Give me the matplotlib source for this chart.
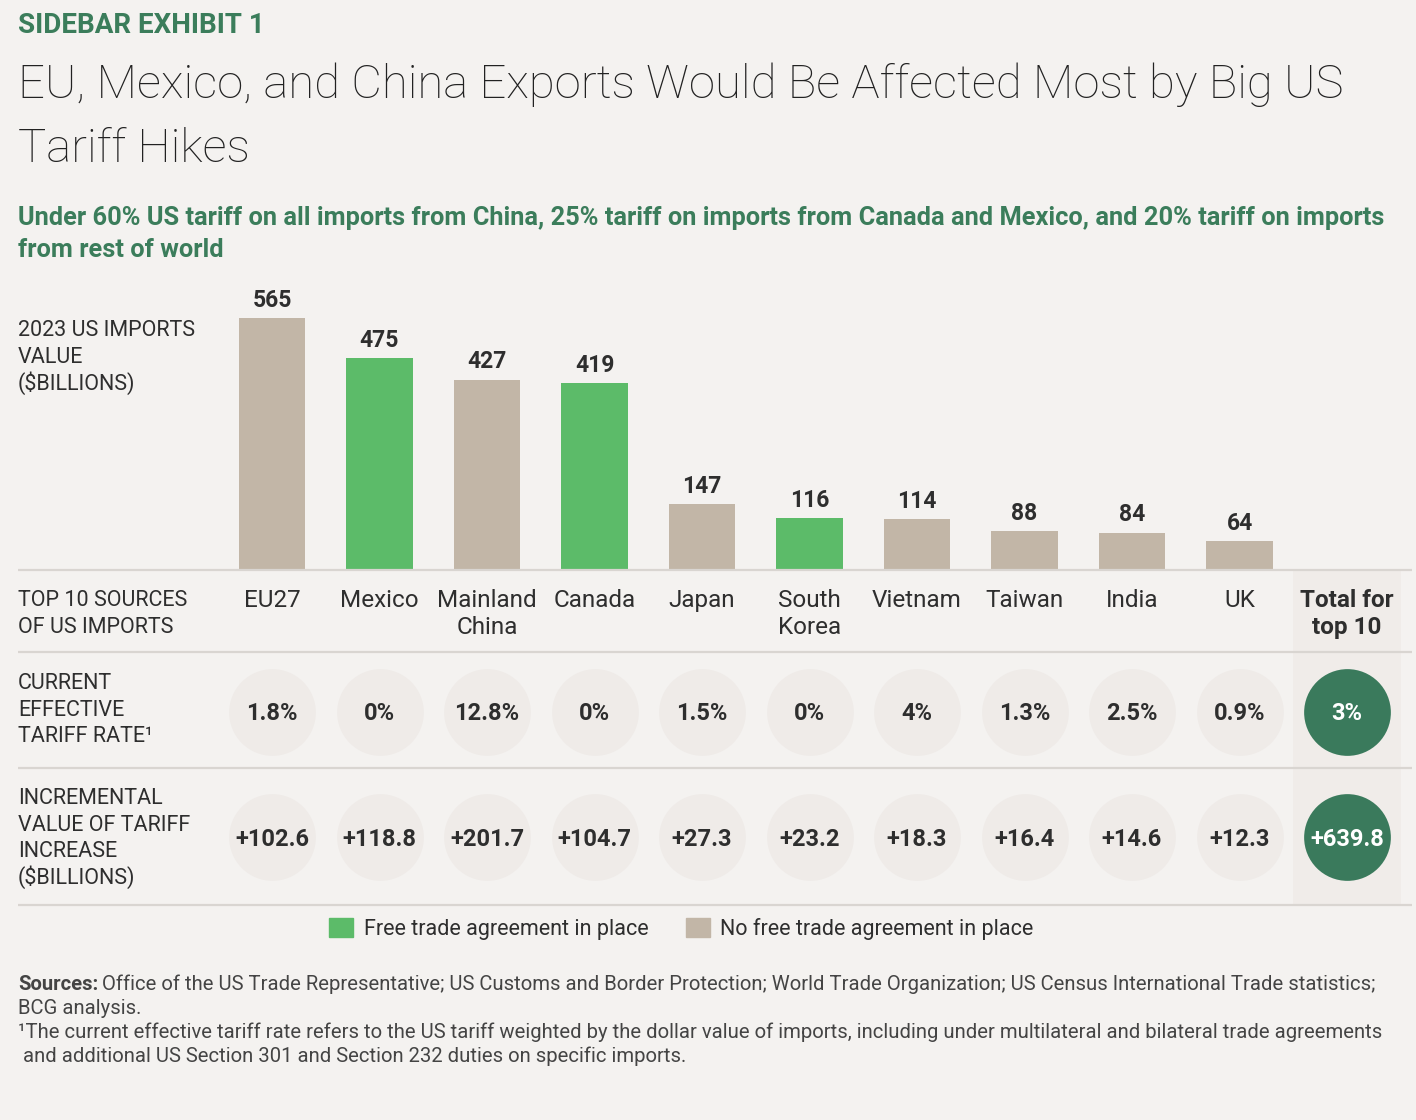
import matplotlib
matplotlib.use('Agg')
import matplotlib.pyplot as plt
from matplotlib.patches import Patch

plt.rcParams['font.family'] = ['Roboto', 'DejaVu Sans']

# data read from the exhibit
countries = ['EU27', 'Mexico', 'Mainland\nChina', 'Canada', 'Japan', 'South\nKorea',
             'Vietnam', 'Taiwan', 'India', 'UK']
imports_2023 = [565, 475, 427, 419, 147, 116, 114, 88, 84, 64]
has_fta = [False, True, False, True, False, True, False, False, False, False]
tariff_rate = [1.8, 0, 12.8, 0, 1.5, 0, 4, 1.3, 2.5, 0.9]
incremental = [102.6, 118.8, 201.7, 104.7, 27.3, 23.2, 18.3, 16.4, 14.6, 12.3]
total_label = 'Total for\ntop 10'
total_rate = 3
total_incremental = 639.8

# colours
BG = '#F4F2F0'
SHADE = '#F0ECE9'
CIRCLE = '#EFEBE8'
GREEN_TXT = '#3B7D5B'
DKGREEN = '#3A7A5C'
FTA = '#5CBB69'
NOFTA = '#C2B6A7'
DARK = '#2E2E2E'
SEP = '#D9D5D1'

W, H = 1416, 1120
fig = plt.figure(figsize=(W / 100, H / 100), dpi=100, facecolor=BG)


def frac(x0, y0, x1, y1):
    # pixel box (from top-left) -> figure fraction
    return [x0 / W, 1 - y1 / H, (x1 - x0) / W, (y1 - y0) / H]


n = len(countries)
xs = list(range(n))

# bars
ax = fig.add_axes(frac(218.25, 302.4, 1400.75, 570), zorder=1)
ax.set_xlim(-0.5, n + 0.5)
ax.set_ylim(0, 600)
ax.axis('off')
bars = ax.bar(xs, imports_2023, width=0.62, color=[FTA if f else NOFTA for f in has_fta])
ax.bar_label(bars, padding=4.5, fontsize=16.5, fontweight='bold', color=DARK)

# table part
tab = fig.add_axes(frac(218.25, 570, 1400.75, 904), zorder=1)
tab.set_xlim(-0.5, n + 0.5)
tab.set_ylim(904, 570)
tab.axis('off')
tab.axvspan(n - 0.5, n + 0.5, color=SHADE, lw=0, zorder=0)

ROW_RATE, ROW_INC = 712, 837
tab.scatter(xs, [ROW_RATE] * n, s=3900, color=CIRCLE, lw=0, zorder=1)
tab.scatter(xs, [ROW_INC] * n, s=3900, color=CIRCLE, lw=0, zorder=1)
tab.scatter([n, n], [ROW_RATE, ROW_INC], s=3900, color=DKGREEN, lw=0, zorder=1)

val = dict(ha='center', va='baseline', fontsize=17, fontweight='bold', zorder=2)
for i in xs:
    tab.text(i, ROW_RATE + 8.5, f'{tariff_rate[i]:g}%', color=DARK, **val)
    tab.text(i, ROW_INC + 8.5, f'+{incremental[i]:.1f}', color=DARK, **val)
tab.text(n, ROW_RATE + 8.5, f'{total_rate:g}%', color='white', **val)
tab.text(n, ROW_INC + 8.5, f'+{total_incremental:.1f}', color='white', **val)

for i, name in enumerate(countries + [total_label]):
    for k, part in enumerate(name.split('\n')):
        tab.text(i, 607 + 27 * k, part, ha='center', va='baseline', fontsize=17.5,
                 color=DARK, fontweight='bold' if i == n else 'normal')

# overlay for titles, labels, rules
bg = fig.add_axes([0, 0, 1, 1], zorder=2)
bg.set_xlim(0, W)
bg.set_ylim(H, 0)
bg.axis('off')
bg.patch.set_alpha(0)


def lines(x, y0, step, parts, **kw):
    for k, p in enumerate(parts):
        bg.text(x, y0 + step * k, p, va='baseline', **kw)


bg.text(18, 33, 'SIDEBAR EXHIBIT 1', fontsize=20, fontweight='bold', color=GREEN_TXT, va='baseline')
lines(18, 98, 64, ['EU, Mexico, and China Exports Would Be Affected Most by Big US', 'Tariff Hikes'],
      fontsize=34, fontweight='light', color='#222222')
lines(18, 225, 32, ['Under 60% US tariff on all imports from China, 25% tariff on imports from Canada and Mexico, and 20% tariff on imports',
                    'from rest of world'], fontsize=18.3, fontweight='bold', color=GREEN_TXT)

lab = dict(fontsize=15.5, color=DARK)
lines(18, 336, 27, ['2023 US IMPORTS', 'VALUE', '($BILLIONS)'], **lab)
lines(18, 606, 27, ['TOP 10 SOURCES', 'OF US IMPORTS'], **lab)
lines(18, 689, 26.5, ['CURRENT', 'EFFECTIVE', 'TARIFF RATE\u00b9'], **lab)
lines(18, 804, 26.7, ['INCREMENTAL', 'VALUE OF TARIFF', 'INCREASE', '($BILLIONS)'], **lab)

for y in (570, 652, 768, 905):
    bg.plot([18, 1412], [y, y], color=SEP, lw=1.6, solid_capstyle='butt')

# legend
fig.legend(handles=[Patch(color=FTA, label='Free trade agreement in place'),
                    Patch(color=NOFTA, label='No free trade agreement in place')],
           loc='center', bbox_to_anchor=(681.5 / W, 1 - 929 / H), ncol=2, frameon=False,
           fontsize=15.5, handlelength=1.1, handleheight=1.0, handletextpad=0.5,
           columnspacing=1.75, labelcolor=DARK)

# footer
foot = dict(fontsize=14.6, color='#444444')
src = bg.text(18, 990, 'Sources:', fontweight='bold', va='baseline', **foot)
bg.annotate('Office of the US Trade Representative; US Customs and Border Protection; '
            'World Trade Organization; US Census International Trade statistics;',
            xy=(1, 0), xycoords=src, xytext=(3, 0), textcoords='offset points',
            va='bottom', **foot)
lines(18, 1014, 24, ['BCG analysis.',
                     '\u00b9The current effective tariff rate refers to the US tariff weighted by the dollar value of imports, '
                     'including under multilateral and bilateral trade agreements',
                     ' and additional US Section 301 and Section 232 duties on specific imports.'], **foot)

fig.savefig('out.png', dpi=100, facecolor=BG)
